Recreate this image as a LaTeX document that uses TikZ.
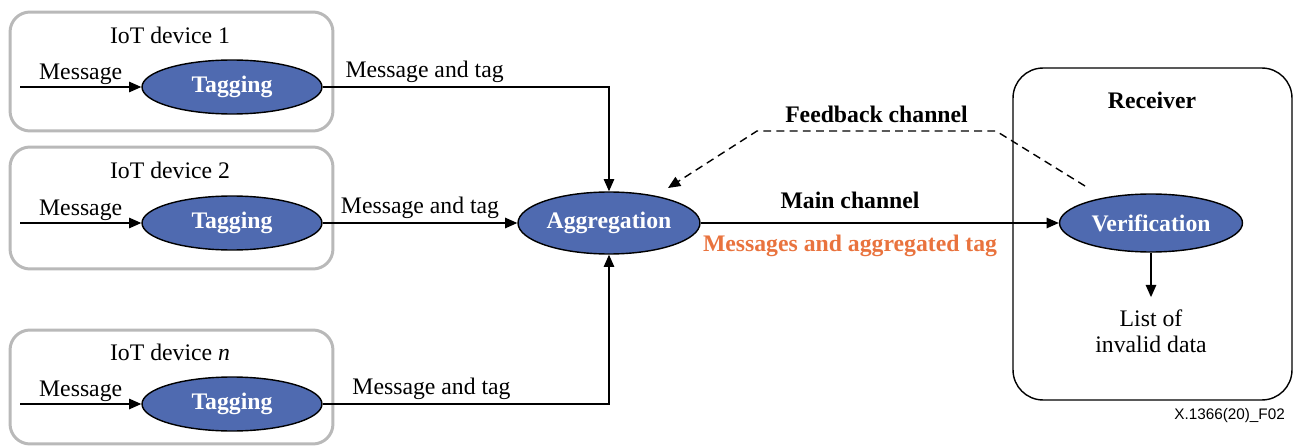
\documentclass[tikz,border=0pt]{standalone}
\usepackage{fontspec}
\setmainfont{Liberation Serif}
\newfontfamily\figidfont{Liberation Sans}
\usetikzlibrary{arrows.meta,positioning,shapes.geometric}
\definecolor{ovalblue}{RGB}{79,106,176}
\definecolor{tagorange}{RGB}{233,115,62}
\definecolor{boxgray}{RGB}{185,185,185}

\begin{document}
\begin{tikzpicture}[
x=0.02cm, y=-0.02cm,
font=\fontsize{13.5}{15}\selectfont,
oval/.style={ellipse, draw=black, line width=0.8pt, fill=ovalblue, text=white, font=\fontsize{13.5}{15}\selectfont\bfseries, inner sep=0pt},
device/.style={draw=boxgray, line width=1.7pt, rounded corners=0.4cm, minimum width=6.46cm},
boldlbl/.style={font=\fontsize{13.5}{15}\selectfont\bfseries},
arr/.style={-{Triangle[length=7pt,width=6pt]}, line width=0.8pt},
feedback/.style={arr, dash pattern=on 4.5pt off 3pt}
]
\useasboundingbox (0,0) rectangle (1302,446);
%Nodes
\node[device, minimum height=2.38cm]   (dev1)   at (171.5,71.5)   {};
\node[device, minimum height=2.44cm]   (dev2)   at (171.5,208)    {};
\node[device, minimum height=2.28cm]   (devn)   at (171.5,387)    {};
\node                                  (name1)  at (170,35)       {IoT device 1};
\node                                  (name2)  at (170,170)      {IoT device 2};
\node                                  (namen)  at (170,352)      {IoT device \textit{n}};
\node[oval, minimum width=3.6cm, minimum height=1.08cm]   (tag1)  at (232,87)   {Tagging};
\node[oval, minimum width=3.6cm, minimum height=1.08cm]   (tag2)  at (232,223)  {Tagging};
\node[oval, minimum width=3.6cm, minimum height=1.08cm]   (tagn)  at (232,404)  {Tagging};
\node[oval, minimum width=3.64cm, minimum height=1.24cm]  (agg)   at (609,223)  {Aggregation};
\node[draw, line width=0.8pt, rounded corners=0.6cm, minimum width=5.58cm, minimum height=6.64cm] (recv) at (1152.5,234) {};
\node[boldlbl]                         (recvname) at (1152,100)   {Receiver};
\node[oval, minimum width=3.66cm, minimum height=1.16cm]  (ver)   at (1151,223) {Verification};
\node[align=center, inner sep=1pt]     (list)   [below=1.1cm of ver]  {List of\\invalid data};
\node[font=\figidfont\fontsize{8.7}{10}\selectfont, anchor=east] (figid) at (1291,416) {X.1366(20)\_F02};
\coordinate (in1) at (20,87);
\coordinate (in2) at (20,223);
\coordinate (inn) at (20,404);
\coordinate (fbstart) at (1085,186);
\coordinate (fbup)    at (996,131);
\coordinate (fbleft)  at (757,131);
\coordinate (fbend)   at (668,188);
%Lines
\draw[arr] (in1) -- (tag1) node [midway, above, inner sep=1pt] {Message};
\draw[arr] (in2) -- (tag2) node [midway, above, inner sep=1pt] {Message};
\draw[arr] (inn) -- (tagn) node [midway, above, inner sep=1pt] {Message};
\draw[arr] (tag1) -| (agg) node [pos=0.178, above, inner sep=2pt] {Message and tag};
\draw[arr] (tag2) -- (agg) node [midway, above, inner sep=2pt] {Message and tag};
\draw[arr] (tagn) -| (agg) node [pos=0.19, above, inner sep=2pt] {Message and tag};
\draw[arr] (agg) -- (ver)
  node [pos=0.417, above, yshift=4.5pt, boldlbl] {Main channel}
  node [pos=0.417, below, yshift=-3pt, boldlbl, text=tagorange] {Messages and aggregated tag};
\draw[feedback] (fbstart) -- (fbup) -- node [above, yshift=1pt, boldlbl] {Feedback channel} (fbleft) -- (fbend);
\draw[arr, shorten >=6pt] (ver) -- (list);
\end{tikzpicture}
\end{document}
